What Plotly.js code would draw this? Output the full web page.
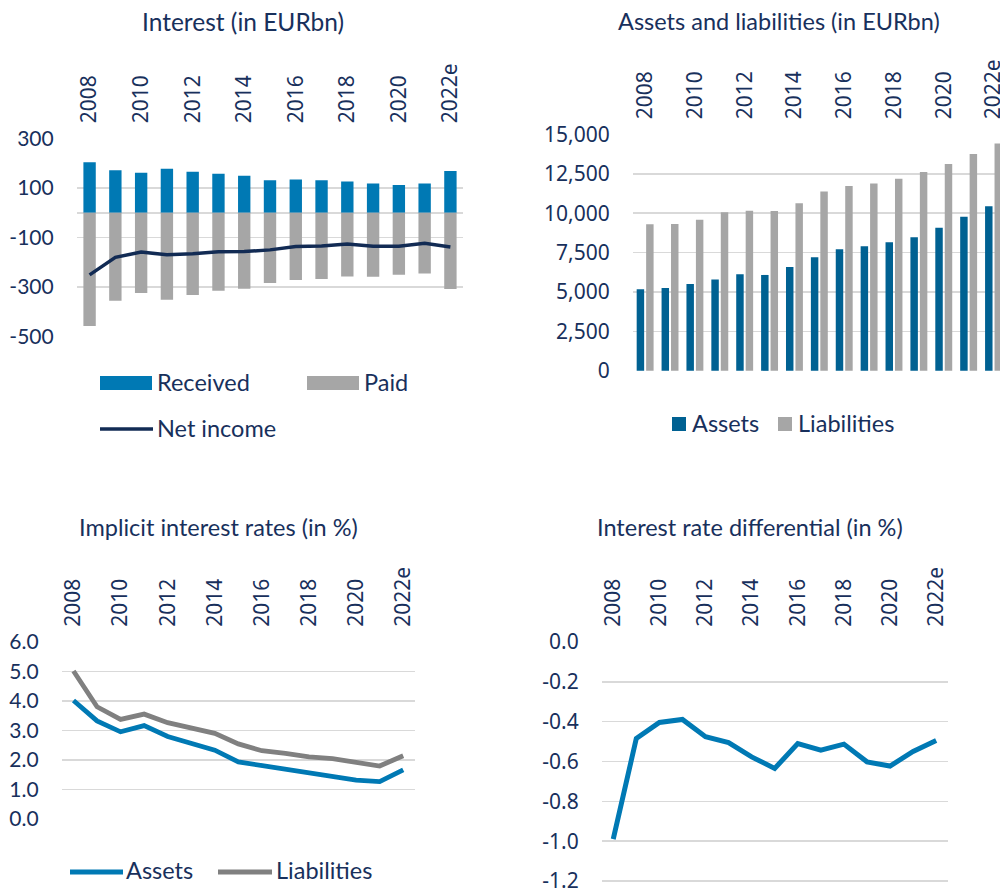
<!DOCTYPE html>
<html>
<head>
<meta charset="utf-8">
<script src="https://cdn.plot.ly/plotly-3.0.1.min.js"></script>
<style>
html,body{margin:0;padding:0;background:#fff;overflow:hidden;}
#chart{width:1000px;height:891px;}
</style>
</head>
<body>
<div id="chart"></div>
<script>
// ---------- data ----------
const years = ['2008','2009','2010','2011','2012','2013','2014','2015','2016','2017','2018','2019','2020','2021','2022e'];
const tickYears = ['2008','2010','2012','2014','2016','2018','2020','2022e'];

// Interest (EURbn)
const received  = [204, 172, 161, 178, 165, 157, 149, 131, 134, 131, 126, 118, 112, 118, 168];
const paid      = [-457, -355, -324, -351, -332, -315, -307, -284, -272, -268, -257, -258, -250, -245, -308];
const netIncome = [-251, -180, -159, -170, -166, -158, -157, -150, -136, -134, -126, -135, -135, -123, -138];

// Assets and liabilities (EURbn)
const assetsStock      = [5176, 5261, 5514, 5789, 6127, 6085, 6592, 7204, 7711, 7901, 8155, 8472, 9085, 9782, 10437];
const liabilitiesStock = [9296, 9317, 9592, 10056, 10162, 10141, 10627, 11387, 11725, 11894, 12190, 12613, 13120, 13754, 14430];

// Implicit interest rates (%)
const assetsRate      = [4.01, 3.32, 2.95, 3.16, 2.79, 2.56, 2.33, 1.93, 1.80, 1.68, 1.58, 1.44, 1.31, 1.26, 1.66];
const liabilitiesRate = [5.01, 3.80, 3.37, 3.55, 3.26, 3.06, 2.90, 2.54, 2.31, 2.22, 2.10, 2.04, 1.92, 1.79, 2.14];

// Interest rate differential (%)
const differential = [-0.99, -0.485, -0.404, -0.389, -0.476, -0.505, -0.577, -0.635, -0.510, -0.543, -0.513, -0.602, -0.623, -0.550, -0.495];

// tick values
const y1Ticks = [300, 100, 0, -100, -300, -500];
const y2Ticks = [0, 2500, 5000, 7500, 10000, 12500, 15000];
const y3Ticks = [0, 1, 2, 3, 4, 5, 6];
const y4Ticks = [0, -0.2, -0.4, -0.6, -0.8, -1.0, -1.2];

// ---------- styling ----------
const W = 1000, H = 891;
const X = px => px / W;
const Y = py => 1 - py / H;
const NAVY = '#18305c';
const BLUE = '#0079b4';
const DBLUE = '#006192';
const GRAY = '#a6a6a6';
const DGRAY = '#808080';
const LINE = '#122b54';
const GRID = '#d9d9d9';
const NEO = 'Lato, "Open Sans", sans-serif';
const SEG = '"Noto Sans", "Open Sans", sans-serif';

const fmtComma = v => v.toLocaleString('en-US');

function xAxis(domain, anchor, standoff, range) {
  return {
    domain: domain, anchor: anchor, type: 'category', side: 'top',
    tickangle: -90, tickmode: 'array', tickvals: tickYears, ticktext: tickYears,
    tickfont: {family: SEG, size: 21, color: NAVY},
    showgrid: false, showline: false, zeroline: false, ticks: '',
    ticklabelstandoff: standoff, ticklabeloverflow: 'allow',
    range: range || [-0.5, 14.5], fixedrange: true
  };
}
function yAxis(domain, anchor, range, vals, texts, font, standoff) {
  return {
    domain: domain, anchor: anchor, range: range,
    tickmode: 'array', tickvals: vals, ticktext: texts,
    tickfont: {family: font, size: 21, color: NAVY},
    showgrid: true, gridcolor: GRID, gridwidth: 1.6,
    zeroline: false, showline: false, ticks: '',
    ticklabelstandoff: standoff, ticklabeloverflow: 'allow', fixedrange: true
  };
}

const traces = [
  {type: 'bar', x: years, y: received, xaxis: 'x', yaxis: 'y', marker: {color: BLUE}, width: 0.48, name: 'Received', showlegend: false},
  {type: 'bar', x: years, y: paid, xaxis: 'x', yaxis: 'y', marker: {color: GRAY}, width: 0.48, name: 'Paid', showlegend: false},
  {type: 'scatter', mode: 'lines', x: years, y: netIncome, xaxis: 'x', yaxis: 'y', line: {color: LINE, width: 3.5}, name: 'Net income', showlegend: false},

  {type: 'bar', x: years, y: assetsStock, xaxis: 'x2', yaxis: 'y2', marker: {color: DBLUE}, width: 0.3, offset: -0.34, name: 'Assets', showlegend: false},
  {type: 'bar', x: years, y: liabilitiesStock, xaxis: 'x2', yaxis: 'y2', marker: {color: GRAY}, width: 0.3, offset: 0.04, name: 'Liabilities', showlegend: false},

  {type: 'scatter', mode: 'lines', x: years, y: assetsRate, xaxis: 'x3', yaxis: 'y3', line: {color: BLUE, width: 4.8}, name: 'Assets', showlegend: false},
  {type: 'scatter', mode: 'lines', x: years, y: liabilitiesRate, xaxis: 'x3', yaxis: 'y3', line: {color: DGRAY, width: 4.8}, name: 'Liabilities', showlegend: false},

  {type: 'scatter', mode: 'lines', x: years, y: differential, xaxis: 'x4', yaxis: 'y4', line: {color: BLUE, width: 5}, name: 'Differential', showlegend: false}
];

// chart 4: plot area extended slightly below -1.2 so that the -1.2 grid line / label are kept
const y4Px = 239.3 / 1.2;          // pixels per unit on chart 4
const y4Low = -1.25;
const y4Bottom = 881 + (-1.2 - y4Low) * y4Px;

const layout = {
  width: W, height: H,
  margin: {l: 0, r: 0, t: 0, b: 0},
  paper_bgcolor: '#fff', plot_bgcolor: '#fff',
  barmode: 'overlay',
  showlegend: false,
  font: {family: NEO, color: NAVY},
  xaxis:  xAxis([X(76.7), X(463.3)], 'y', 14),
  yaxis:  yAxis([Y(336.7), Y(138.3)], 'x', [-500.5, 300.5], y1Ticks, y1Ticks.map(v => v === 0 ? '' : String(v)), NEO, 22),
  xaxis2: xAxis([X(632.7), X(1000)], 'y2', 14, [-0.5, 14.26]),
  yaxis2: yAxis([Y(371), Y(134.3)], 'x2', [-10, 15010], y2Ticks, y2Ticks.map(fmtComma), SEG, 22),
  xaxis3: xAxis([X(61.7), X(415)], 'y3', 14),
  yaxis3: yAxis([Y(819), Y(641.7)], 'x3', [-0.005, 6.005], y3Ticks, y3Ticks.map(v => v.toFixed(1)), NEO, 22),
  xaxis4: xAxis([X(601.7), X(947.7)], 'y4', 14),
  yaxis4: yAxis([Y(y4Bottom), Y(641.7)], 'x4', [y4Low, 0.001], y4Ticks, y4Ticks.map(v => v.toFixed(1)), SEG, 22),
  annotations: [],
  shapes: []
};

function title(text, cx, cy, size) {
  layout.annotations.push({xref: 'paper', yref: 'paper', x: X(cx), y: Y(cy), xanchor: 'center', yanchor: 'middle',
    text: text, showarrow: false, font: {family: NEO, size: size, color: NAVY}});
}
function legText(text, lx, cy) {
  layout.annotations.push({xref: 'paper', yref: 'paper', x: X(lx), y: Y(cy), xanchor: 'left', yanchor: 'middle',
    text: text, showarrow: false, borderpad: 0, font: {family: NEO, size: 23.5, color: NAVY}});
}
function legRect(x0, y0, x1, y1, color) {
  layout.shapes.push({type: 'rect', xref: 'paper', yref: 'paper', x0: X(x0), x1: X(x1), y0: Y(y0), y1: Y(y1),
    fillcolor: color, line: {width: 0}});
}
function legLine(x0, x1, yy, color, w) {
  layout.shapes.push({type: 'line', xref: 'paper', yref: 'paper', x0: X(x0), x1: X(x1), y0: Y(yy), y1: Y(yy),
    line: {color: color, width: w}});
}

title('Interest (in EURbn)', 243, 21, 24.5);
title('Assets and liabilities (in EURbn)', 779, 21, 23.5);
title('Implicit interest rates (in %)', 218, 527, 23.5);
title('Interest rate differential (in %)', 750, 527, 23.5);

// legend chart 1
legRect(100, 376, 152, 390, BLUE);   legText('Received', 156, 382);
legRect(307, 376, 359, 390, GRAY);   legText('Paid', 363, 382);
legLine(100, 153, 429, LINE, 3.5);   legText('Net income', 156, 428);
// legend chart 2
legRect(672, 417, 686, 431, DBLUE);  legText('Assets', 691, 423);
legRect(778, 417, 792, 431, GRAY);   legText('Liabilities', 797, 423);
// legend chart 3
legLine(70, 123, 872, BLUE, 5);      legText('Assets', 125, 870);
legLine(218, 272, 872, DGRAY, 5);    legText('Liabilities', 275, 870);

Plotly.newPlot('chart', traces, layout, {displayModeBar: false, staticPlot: true});
</script>
</body>
</html>
